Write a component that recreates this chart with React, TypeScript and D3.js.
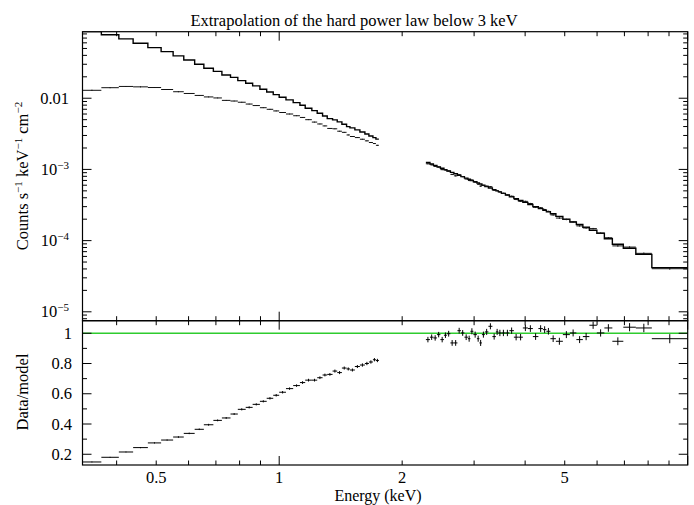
import React from "react";
import * as d3 from "d3";

const W = 694;
const H = 505;
const TITLE = "Extrapolation of the hard power law below 3 keV";
const X_LABEL = "Energy (keV)";
const Y_LABEL_LOW = "Data/model";

// x tick labels (keV)
const xLabelTicks = [0.5, 1, 2, 5];
const xMajorTicks = [1, 10];
const xMinorTicks = [0.4, 0.5, 0.6, 0.7, 0.8, 0.9, 2, 3, 4, 5, 6, 7, 8, 9];
// upper y ticks (labelled)
const yUpLabelTicks = [0.01, 1e-3, 1e-4, 1e-5];
// lower y ticks
const yLowLabelTicks = [0.2, 0.4, 0.6, 0.8, 1];
const yLowMinorTicks = [0.3, 0.5, 0.7, 0.9];

// ---- soft band (0.33-1.75 keV) ----
const softEdges = [0.33, 0.367, 0.405, 0.439, 0.477, 0.514, 0.55, 0.584, 0.621, 0.654, 0.69, 0.724, 0.76, 0.792, 0.828, 0.861, 0.897, 0.932, 0.967, 1.0, 1.039, 1.082, 1.124, 1.158, 1.202, 1.239, 1.277, 1.311, 1.351, 1.387, 1.424, 1.462, 1.49, 1.532, 1.576, 1.621, 1.658, 1.696, 1.725, 1.754];
const softModel = [0.0867, 0.0781, 0.0681, 0.0592, 0.0514, 0.0451, 0.0393, 0.0345, 0.03, 0.0264, 0.0238, 0.0212, 0.0196, 0.01767, 0.01624, 0.01489, 0.01338, 0.01226, 0.01124, 0.01033, 0.00947, 0.00868, 0.00797, 0.00724, 0.0067, 0.00616, 0.00564, 0.00517, 0.00496, 0.00465, 0.00431, 0.00399, 0.00383, 0.00359, 0.00336, 0.00315, 0.00295, 0.0028, 0.00266];
const softRatio = [0.149, 0.18, 0.215, 0.244, 0.275, 0.294, 0.314, 0.338, 0.365, 0.395, 0.424, 0.44, 0.466, 0.497, 0.51, 0.53, 0.55, 0.57, 0.59, 0.61, 0.634, 0.654, 0.674, 0.69, 0.69, 0.706, 0.724, 0.728, 0.75, 0.74, 0.77, 0.764, 0.757, 0.78, 0.79, 0.8, 0.81, 0.825, 0.82];
const softRatioErr = [0.003, 0.003, 0.003, 0.004, 0.004, 0.004, 0.005, 0.005, 0.005, 0.006, 0.006, 0.006, 0.006, 0.007, 0.007, 0.007, 0.007, 0.008, 0.008, 0.008, 0.008, 0.008, 0.009, 0.009, 0.009, 0.009, 0.009, 0.009, 0.01, 0.01, 0.01, 0.01, 0.01, 0.01, 0.011, 0.011, 0.011, 0.011, 0.011];

// ---- hard band (2.3-10 keV) ----
const hardEdges = [2.286, 2.339, 2.385, 2.433, 2.481, 2.531, 2.574, 2.625, 2.677, 2.731, 2.785, 2.841, 2.897, 2.938, 2.988, 3.048, 3.091, 3.135, 3.188, 3.252, 3.326, 3.392, 3.44, 3.499, 3.579, 3.66, 3.754, 3.85, 3.949, 4.062, 4.178, 4.31, 4.421, 4.509, 4.612, 4.757, 4.948, 5.147, 5.339, 5.538, 5.745, 5.993, 6.252, 6.54, 6.957, 7.465, 8.17, 10.0];
const hardModel = [1.253e-3, 1.193e-3, 1.138e-3, 1.087e-3, 1.037e-3, 9.94e-4, 9.52e-4, 9.09e-4, 8.68e-4, 8.28e-4, 7.91e-4, 7.55e-4, 7.26e-4, 6.99e-4, 6.7e-4, 6.44e-4, 6.23e-4, 6.0e-4, 5.75e-4, 5.47e-4, 5.21e-4, 5.0e-4, 4.83e-4, 4.61e-4, 4.37e-4, 4.13e-4, 3.89e-4, 3.66e-4, 3.44e-4, 3.22e-4, 3.0e-4, 2.81e-4, 2.67e-4, 2.54e-4, 2.38e-4, 2.19e-4, 2.0e-4, 1.83e-4, 1.68e-4, 1.54e-4, 1.4e-4, 1.27e-4, 1.06e-4, 8.9e-5, 7.8e-5, 6.4e-5, 4.18e-5];
const hardRatio = [0.958, 0.974, 0.969, 0.991, 0.958, 0.987, 0.997, 0.936, 0.936, 1.017, 1.002, 0.974, 0.964, 1.013, 0.991, 0.964, 0.936, 0.991, 1.009, 1.046, 0.978, 1.009, 1.002, 1.002, 1.002, 1.017, 0.974, 0.974, 1.035, 1.031, 0.978, 1.031, 1.024, 1.013, 0.964, 0.947, 0.991, 1.002, 0.958, 0.978, 1.053, 1.002, 1.035, 0.947, 1.04, 1.035, 0.964];
const hardRatioErr = [0.018, 0.018, 0.018, 0.018, 0.018, 0.018, 0.019, 0.019, 0.019, 0.019, 0.019, 0.019, 0.02, 0.02, 0.02, 0.02, 0.02, 0.02, 0.02, 0.02, 0.02, 0.02, 0.021, 0.021, 0.021, 0.021, 0.021, 0.021, 0.021, 0.022, 0.022, 0.022, 0.022, 0.022, 0.022, 0.023, 0.023, 0.023, 0.023, 0.024, 0.024, 0.024, 0.025, 0.026, 0.027, 0.028, 0.03];

const FONT = "'Liberation Serif', 'Times New Roman', serif";

const L = 82.5, R = 687.7, T = 31.7, MID = 320.7, B = 465;

export default function App() {
  const x = d3.scaleLog().domain([0.33, 10]).range([L, R]);
  const yU = d3.scaleLog().domain([7.5e-6, 0.086]).range([MID, T]);
  const yL = d3.scaleLinear().domain([0.129, 1.083]).range([B, MID]);

  const bands = [
    { edges: softEdges, model: softModel, ratio: softRatio, err: softRatioErr },
    { edges: hardEdges, model: hardModel, ratio: hardRatio, err: hardRatioErr },
  ];

  const stepLine = d3
    .line<[number, number]>()
    .x((d) => x(d[0]))
    .y((d) => yU(d[1]))
    .curve(d3.curveStepAfter);

  const yUMinor: number[] = [];
  for (let e = -6; e <= -1; e++) {
    for (let k = 2; k <= 9; k++) {
      const v = k * Math.pow(10, e);
      if (v > 7.5e-6 && v < 0.086) yUMinor.push(v);
    }
  }
  const yUMajor = [1e-5, 1e-4, 1e-3, 1e-2];

  const tickStroke = { stroke: "#000", strokeWidth: 1 };
  const elems: React.ReactNode[] = [];

  const xAxes = [
    { y: T, dir: 1 },
    { y: MID, dir: -1 },
    { y: MID, dir: 1 },
    { y: B, dir: -1 },
  ];
  xAxes.forEach((a, ai) => {
    xMinorTicks.forEach((v) => {
      elems.push(<line key={`xm${ai}-${v}`} x1={x(v)} x2={x(v)} y1={a.y} y2={a.y + a.dir * 4.5} {...tickStroke} />);
    });
    xMajorTicks.forEach((v) => {
      elems.push(<line key={`xM${ai}-${v}`} x1={x(v)} x2={x(v)} y1={a.y} y2={a.y + a.dir * 9} {...tickStroke} />);
    });
  });

  [L, R].forEach((xx, si) => {
    const dir = si === 0 ? 1 : -1;
    yUMinor.forEach((v) => {
      elems.push(<line key={`yum${si}-${v}`} x1={xx} x2={xx + dir * 4.5} y1={yU(v)} y2={yU(v)} {...tickStroke} />);
    });
    yUMajor.forEach((v) => {
      elems.push(<line key={`yuM${si}-${v}`} x1={xx} x2={xx + dir * 9} y1={yU(v)} y2={yU(v)} {...tickStroke} />);
    });
    yLowMinorTicks.forEach((v) => {
      elems.push(<line key={`ylm${si}-${v}`} x1={xx} x2={xx + dir * 4.5} y1={yL(v)} y2={yL(v)} {...tickStroke} />);
    });
    yLowLabelTicks.forEach((v) => {
      elems.push(<line key={`ylM${si}-${v}`} x1={xx} x2={xx + dir * 9} y1={yL(v)} y2={yL(v)} {...tickStroke} />);
    });
  });

  const upperMarks: React.ReactNode[] = [];
  const lowerMarks: React.ReactNode[] = [];
  bands.forEach((b, bi) => {
    const pts: [number, number][] = b.model.map((m, i) => [b.edges[i], m] as [number, number]);
    pts.push([b.edges[b.edges.length - 1], b.model[b.model.length - 1]]);
    upperMarks.push(
      <path key={`model${bi}`} d={stepLine(pts) || ""} fill="none" stroke="#000" strokeWidth={1.4} />
    );
    b.ratio.forEach((r, i) => {
      const e0 = b.edges[i];
      const e1 = b.edges[i + 1];
      const ec = Math.sqrt(e0 * e1);
      const m = b.model[i];
      const dv = m * r;
      const de = m * b.err[i];
      upperMarks.push(
        <g key={`d${bi}-${i}`} stroke="#111" strokeWidth={1}>
          <line x1={x(e0)} x2={x(e1)} y1={yU(dv)} y2={yU(dv)} />
          <line x1={x(ec)} x2={x(ec)} y1={yU(dv - de)} y2={yU(dv + de)} />
        </g>
      );
      lowerMarks.push(
        <g key={`r${bi}-${i}`} stroke="#000" strokeWidth={1}>
          <line x1={x(e0)} x2={x(e1)} y1={yL(r)} y2={yL(r)} />
          <line x1={x(ec)} x2={x(ec)} y1={yL(r - b.err[i])} y2={yL(r + b.err[i])} />
        </g>
      );
    });
  });

  const sup = (t: string) => (
    <tspan fontSize={11} dy={-6}>{t}</tspan>
  );

  return (
    <svg
      width={W}
      height={H}
      style={{ position: "absolute", left: 0, top: 0, background: "#fff" }}
      fontFamily={FONT}
    >
      <defs>
        <clipPath id="clipU">
          <rect x={L} y={T} width={R - L} height={MID - T} />
        </clipPath>
        <clipPath id="clipL">
          <rect x={L} y={MID} width={R - L} height={B - MID} />
        </clipPath>
      </defs>
      <rect x={0} y={0} width={W} height={H} fill="#fff" />
      <text x={354} y={26} fontSize={16.5} textAnchor="middle">{TITLE}</text>

      <g clipPath="url(#clipU)">{upperMarks}</g>
      <g clipPath="url(#clipL)">
        <line x1={L} x2={R} y1={yL(1)} y2={yL(1)} stroke="#2ecc2e" strokeWidth={1.6} />
        {lowerMarks}
      </g>

      {elems}
      <rect x={L} y={T} width={R - L} height={MID - T} fill="none" stroke="#000" strokeWidth={1.2} />
      <rect x={L} y={MID} width={R - L} height={B - MID} fill="none" stroke="#000" strokeWidth={1.2} />

      {xLabelTicks.map((v) => (
        <text key={`xl${v}`} x={x(v)} y={483} fontSize={16.5} textAnchor="middle">{String(v)}</text>
      ))}
      <text x={378} y={501} fontSize={16} textAnchor="middle">{X_LABEL}</text>

      {yUpLabelTicks.map((v) => {
        const yy = yU(v) + 5.5;
        if (v === 0.01) {
          return <text key={`yu${v}`} x={69} y={yy} fontSize={16.5} textAnchor="end">0.01</text>;
        }
        const ex = Math.round(Math.log10(v));
        return (
          <text key={`yu${v}`} x={69} y={yy} fontSize={16.5} textAnchor="end">
            10<tspan fontSize={11} dy={-6}>{`−${-ex}`}</tspan>
          </text>
        );
      })}
      {yLowLabelTicks.map((v) => (
        <text key={`yl${v}`} x={72} y={yL(v) + 5.5} fontSize={16.5} textAnchor="end">{v === 1 ? "1" : d3.format(".1f")(v)}</text>
      ))}

      <text transform={`translate(28,176) rotate(-90)`} fontSize={16.5} textAnchor="middle">
        Counts s{sup("−1")}<tspan dy={6}> keV</tspan>{sup("−1")}<tspan dy={6}> cm</tspan>{sup("−2")}
      </text>
      <text transform={`translate(28,392) rotate(-90)`} fontSize={16.5} textAnchor="middle">{Y_LABEL_LOW}</text>
    </svg>
  );
}
